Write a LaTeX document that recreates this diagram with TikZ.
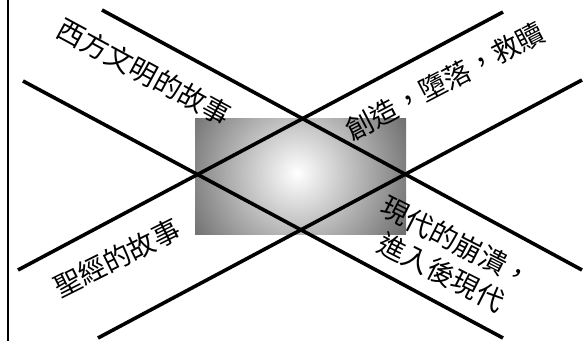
\documentclass[tikz,border=0pt]{standalone}
\usepackage{fontspec}
\newfontfamily\cjk{Noto Sans CJK TC}
\pgfdeclareradialshading{panelshade}{\pgfpointorigin}{color(0bp)=(white); color(120bp)=(black!56); color(200bp)=(black!56)}
\begin{document}
\begin{tikzpicture}[x=1pt,y=-1pt,
  bar/.style={line width=3.6pt, black},
  edge/.style={line width=2.2pt, black},
  lbl/.style={font=\cjk\fontsize{27.5}{34}\selectfont, inner sep=0pt, align=center}]
\useasboundingbox (0,0) rectangle (583,341);
% shaded panel
\begin{scope}
  \clip (195,118) rectangle (406,234);
  \node[inner sep=0pt, outer sep=0pt] (glow) at (297,173) {\pgfuseshading{panelshade}};
\end{scope}
% end points
\coordinate (a1) at (102,10);  \coordinate (a2) at (582,270);
\coordinate (b1) at (23,81);   \coordinate (b2) at (503,338);
\coordinate (c1) at (18,270);  \coordinate (c2) at (503,12);
\coordinate (d1) at (98,338);  \coordinate (d2) at (582,80);
\coordinate (e1) at (8,0);     \coordinate (e2) at (8,341);
\draw[edge] (e1) -- (e2);
\draw[bar] (a1) -- (a2);
\draw[bar] (b1) -- (b2);
\draw[bar] (c1) -- (c2);
\draw[bar] (d1) -- (d2);
% labels
\node[lbl, rotate=-28.5] (t1) at (144,72) {西方文明的故事};
\node[lbl, rotate=27.5]  (t2) at (445,81) {創造，墮落，救贖};
\node[lbl, rotate=26.5]  (t3) at (117,258) {聖經的故事};
\node[lbl, rotate=-27]   (t4) at (449,257) {現代的崩潰，\\進入後現代};
\end{tikzpicture}
\end{document}
